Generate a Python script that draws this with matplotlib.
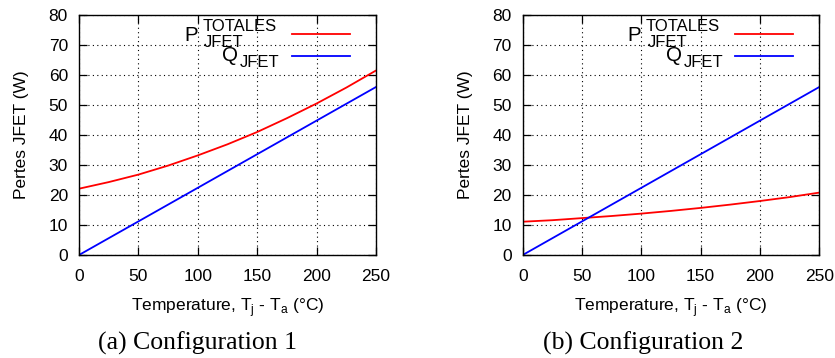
import numpy as np
import matplotlib
matplotlib.use("Agg")
import matplotlib.pyplot as plt

# ==============================
# Données
# ==============================
temperature = [0, 25, 50, 75, 100, 125, 150, 175, 200, 225, 250]

p_totales_conf1 = [22.1, 24.3, 26.8, 29.8, 33.2, 36.9, 41.0, 45.6, 50.5, 55.8, 61.5]
p_totales_conf2 = [11.1, 11.6, 12.3, 13.0, 13.8, 14.7, 15.7, 16.8, 18.0, 19.3, 20.8]
q_jfet = [0.0, 5.6, 11.2, 16.8, 22.4, 28.0, 33.6, 39.2, 44.8, 50.4, 56.0]

x_ticks = [0, 50, 100, 150, 200, 250]
y_ticks = [0, 10, 20, 30, 40, 50, 60, 70, 80]
captions = ["(a) Configuration 1", "(b) Configuration 2"]
caption_x = [0.2365, 0.770]

plt.rcParams['font.family'] = ['Liberation Sans', 'DejaVu Sans']
plt.rcParams['mathtext.fontset'] = 'custom'
plt.rcParams['mathtext.rm'] = 'Liberation Sans'

fig = plt.figure(figsize=(8.35, 3.58), dpi=100)
ax1 = fig.add_axes([0.0946, 0.2877, 0.3557, 0.6704])
ax2 = fig.add_axes([0.626, 0.2877, 0.3552, 0.6704])

ROUGE = '#ff0000'
BLEU = '#0000ff'

for ax, p_tot, cap, cx in [(ax1, p_totales_conf1, captions[0], caption_x[0]),
                           (ax2, p_totales_conf2, captions[1], caption_x[1])]:
    ax.plot(temperature, p_tot, color=ROUGE, lw=1.3)
    ax.plot(temperature, q_jfet, color=BLEU, lw=1.3)
    ax.set_xlim(0, 250)
    ax.set_ylim(0, 80)
    ax.set_xticks(x_ticks)
    ax.set_yticks(y_ticks)
    ax.tick_params(direction='in', length=6, width=0.9, top=True, right=True,
                   labelsize=12.5, colors='black')
    ax.tick_params(axis='x', pad=10)
    ax.tick_params(axis='y', pad=8)
    ax.grid(True, linestyle=(0, (1, 3)), color='black', lw=0.8)
    for s in ax.spines.values():
        s.set_linewidth(1.0)
    ax.set_xlabel('Temperature, T$_\\mathregular{j}$ - T$_\\mathregular{a}$ (°C)',
                  fontsize=12.5, labelpad=9)
    ax.set_ylabel('Pertes JFET (W)', fontsize=12.5, labelpad=14)

    # légende style gnuplot
    ax.text(0.40, 0.892, 'P', transform=ax.transAxes, ha='right',
            va='baseline', fontsize=14.8)
    ax.text(0.416, 0.933, 'TOTALES', transform=ax.transAxes, ha='left',
            va='baseline', fontsize=12)
    ax.text(0.421, 0.868, 'JFET', transform=ax.transAxes, ha='left',
            va='baseline', fontsize=12)
    ax.text(0.537, 0.808, 'Q', transform=ax.transAxes, ha='right',
            va='baseline', fontsize=14.8)
    ax.text(0.542, 0.785, 'JFET', transform=ax.transAxes, ha='left',
            va='baseline', fontsize=12)
    ax.plot([0.717, 0.912], [0.921, 0.921], color=ROUGE, lw=1.3,
            transform=ax.transAxes, clip_on=False)
    ax.plot([0.717, 0.912], [0.829, 0.829], color=BLEU, lw=1.3,
            transform=ax.transAxes, clip_on=False)

    fig.text(cx, 0.042, cap, ha='center', va='center', fontsize=18.5,
             family=['Liberation Serif', 'DejaVu Serif'])

fig.savefig('out.png', dpi=100)
